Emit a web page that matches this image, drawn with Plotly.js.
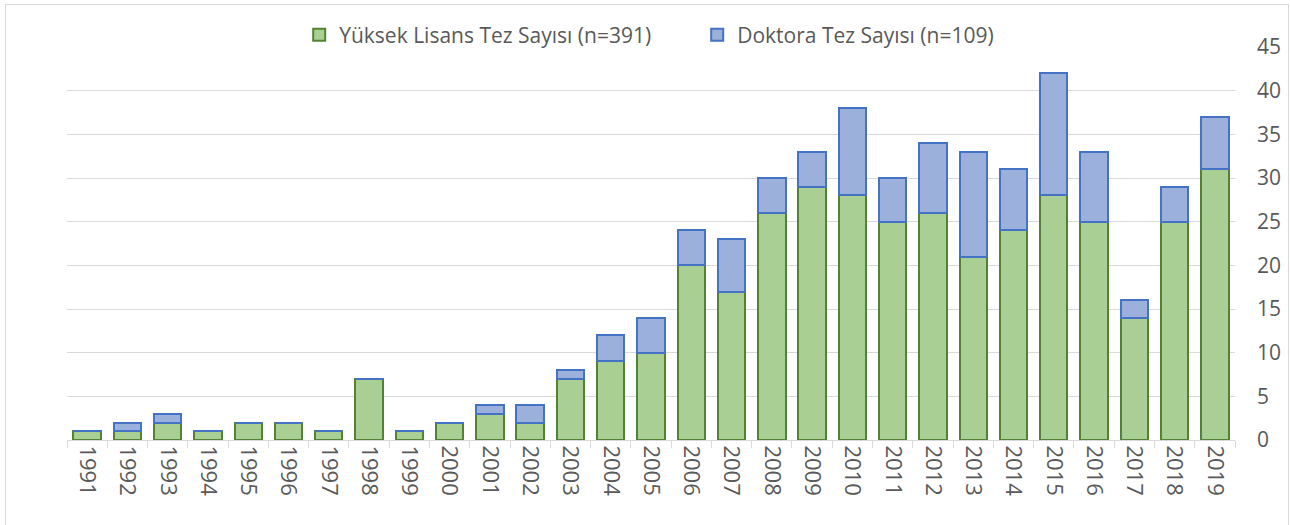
<!DOCTYPE html>
<html>
<head>
<meta charset="utf-8">
<script src="https://cdn.plot.ly/plotly-3.0.1.min.js"></script>
<style>
html,body{margin:0;padding:0;background:#fff;}
#wrap{position:relative;width:1290px;height:525px;}
#chart{width:1290px;height:525px;}
#frame{position:absolute;left:5px;top:4px;width:1282px;height:530px;border:1px solid #d9d9d9;pointer-events:none;}
</style>
</head>
<body>
<div id="wrap"><div id="chart"></div><div id="frame"></div></div>
<script>
const years = ["1991","1992","1993","1994","1995","1996","1997","1998","1999","2000","2001","2002","2003","2004","2005","2006","2007","2008","2009","2010","2011","2012","2013","2014","2015","2016","2017","2018","2019"];
const yuksekLisans = [1,1,2,1,2,2,1,7,1,2,3,2,7,9,10,20,17,26,29,28,25,26,21,24,28,25,14,25,31];
const doktora = [0,1,1,0,0,0,0,0,0,0,1,2,1,3,4,4,6,4,4,10,5,8,12,7,14,8,2,4,6];
const seriesNames = ["Yüksek Lisans Tez Sayısı (n=391)", "Doktora Tez Sayısı (n=109)"];
const yTicks = [0,5,10,15,20,25,30,35,40,45];

const FONT = "Open Sans, sans-serif";
const data = [
  {type:"bar", x:years, y:yuksekLisans, name:seriesNames[0],
   marker:{color:"#a9cf94", line:{color:"#548235", width:2}}, hoverinfo:"x+y"},
  {type:"bar", x:years, y:doktora, name:seriesNames[1],
   marker:{color:"#9cb0dc", line:{color:"#4472c4", width:2}}, hoverinfo:"x+y"}
];
const layout = {
  width:1290, height:525,
  margin:{l:67, r:55, t:47, b:85, pad:0},
  barmode:"stack", bargap:0.32,
  paper_bgcolor:"#fff", plot_bgcolor:"#fff",
  font:{family:FONT, color:"#595959", size:20},
  showlegend:true,
  legend:{orientation:"h", x:0.1988, xanchor:"left", y:1.03, yanchor:"middle",
          font:{family:FONT, size:21, color:"#595959"}, entrywidth:353, entrywidthmode:"pixels",
          traceorder:"normal", bgcolor:"rgba(0,0,0,0)"},
  xaxis:{type:"category", tickangle:90, showgrid:false, showline:true, linecolor:"#d9d9d9", linewidth:1,
         ticks:"outside", tickson:"boundaries", ticklen:7, tickcolor:"#d9d9d9", tickwidth:1,
         tickfont:{family:FONT, size:22, color:"#595959"}, zeroline:false, fixedrange:true},
  yaxis:{side:"right", range:[0,45], tickvals:yTicks, ticktext:yTicks.map(String),
         showgrid:true, gridcolor:"#d9d9d9", gridwidth:1, zeroline:false, showline:false,
         ticks:"", ticklabelstandoff:21, tickfont:{family:FONT, size:21, color:"#595959"}, fixedrange:true}
};
Plotly.newPlot("chart", data, layout, {displayModeBar:false, staticPlot:true});
</script>
</body>
</html>
